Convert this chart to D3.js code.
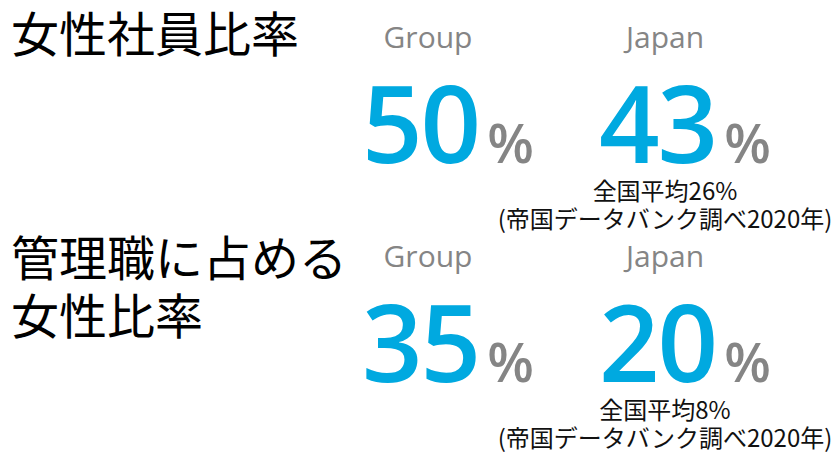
<!DOCTYPE html>
<html>
<head>
<meta charset="utf-8">
<script src="https://cdn.jsdelivr.net/npm/d3@7"></script>
<style>
  html, body { margin: 0; padding: 0; background: #fff; }
  svg { display: block; }
</style>
</head>
<body>
<div id="chart"></div>
<script>
// metrics shown, one row each
const metrics = ["女性社員比率", "管理職に占める女性比率"];
const titleLines = [["女性社員比率"], ["管理職に占める", "女性比率"]];
const scopes = ["Group", "Japan"];
const groupValues = [50, 35];
const japanValues = [43, 20];
const nationalAvg = [26, 8];
const sourceNote = "(帝国データバンク調べ2020年)";

const width = 835, height = 452;
const blue = "#00a9e0", gray = "#858585";
const jpFont = '"Noto Sans CJK JP", "Noto Sans", sans-serif';
const latinFont = '"Open Sans", "Noto Sans", sans-serif';

const svg = d3.select("#chart")
  .append("svg")
  .attr("width", width)
  .attr("height", height);

// rows and columns
const y = d3.scaleBand().domain(metrics).range([0, 438]);
const x = d3.scalePoint().domain(scopes).range([428, 665]);

const rows = metrics.map((m, i) => ({
  metric: m,
  lines: titleLines[i],
  values: [groupValues[i], japanValues[i]],
  avg: nationalAvg[i]
}));

const row = svg.selectAll("g.row")
  .data(rows)
  .enter()
  .append("g")
  .attr("class", "row")
  .attr("transform", d => `translate(0, ${y(d.metric)})`);

// title on the left
row.append("text")
  .attr("x", 11)
  .attr("y", (d, i) => i === 0 ? 52 : 57)
  .attr("font-family", jpFont)
  .attr("font-size", 48)
  .attr("fill", "#000")
  .selectAll("tspan")
  .data(d => d.lines)
  .enter()
  .append("tspan")
  .attr("x", 11)
  .attr("dy", (d, i) => i === 0 ? 0 : 58)
  .text(d => d);

// one cell per scope
const cell = row.selectAll("g.cell")
  .data(d => d.values.map((v, j) => ({ scope: scopes[j], value: v, avg: d.avg })))
  .enter()
  .append("g")
  .attr("class", "cell")
  .attr("transform", d => `translate(${x(d.scope)}, 0)`);

cell.append("text")
  .attr("text-anchor", "middle")
  .attr("y", 48)
  .attr("font-family", latinFont)
  .attr("font-size", 30)
  .attr("fill", gray)
  .text(d => d.scope);

const num = cell.append("text")
  .attr("x", -66)
  .attr("y", 163)
  .attr("font-family", latinFont)
  .attr("font-weight", 600)
  .attr("font-size", 106)
  .attr("letter-spacing", -2)
  .attr("fill", blue);

num.append("tspan").text(d => d.value);
num.append("tspan")
  .attr("dx", 8)
  .attr("font-size", 54)
  .attr("font-weight", 600)
  .attr("letter-spacing", 0)
  .attr("fill", gray)
  .text("%");

// national average note under Japan
const note = cell.filter(d => d.scope === "Japan")
  .append("text")
  .attr("text-anchor", "middle")
  .attr("y", 200)
  .attr("font-family", jpFont)
  .attr("font-size", 24)
  .attr("fill", "#111");

note.append("tspan")
  .attr("x", 0)
  .text(d => `全国平均${d.avg}%`);
note.append("tspan")
  .attr("x", 0)
  .attr("dy", 28)
  .text(sourceNote);
</script>
</body>
</html>
